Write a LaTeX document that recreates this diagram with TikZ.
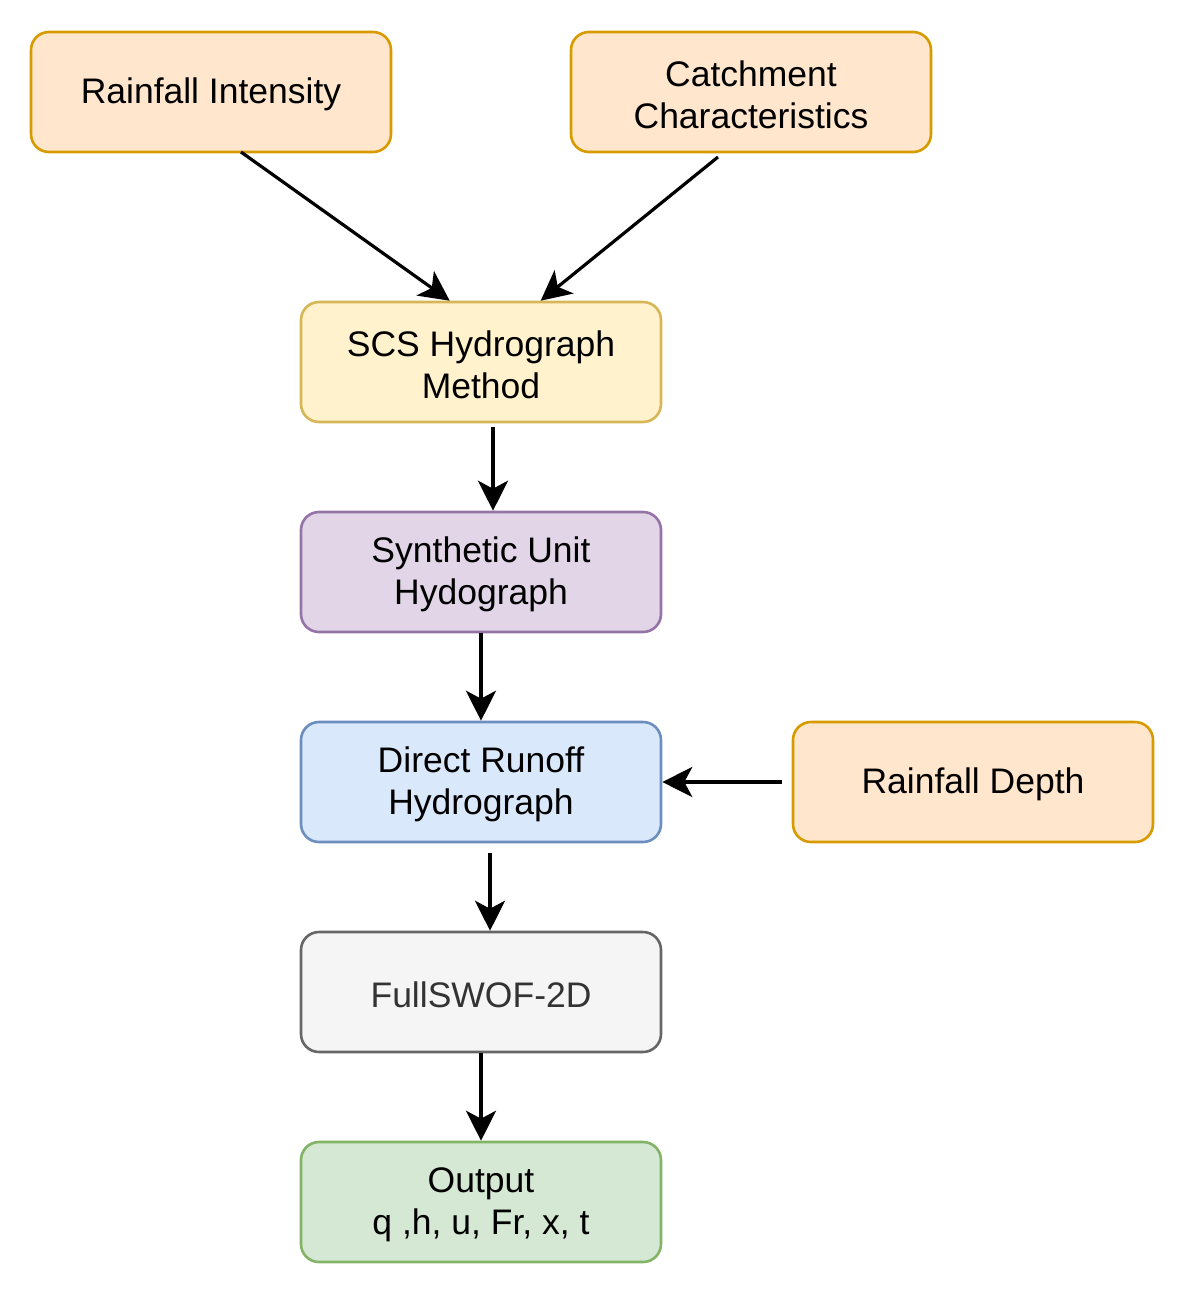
\documentclass[tikz,border=0pt]{standalone}
\usepackage{fontspec}
\setmainfont{Liberation Sans}
\usetikzlibrary{arrows.meta,calc}
\definecolor{orF}{HTML}{FFE6CC}\definecolor{orD}{HTML}{D79B00}
\definecolor{yeF}{HTML}{FFF2CC}\definecolor{yeD}{HTML}{D6B656}
\definecolor{puF}{HTML}{E1D5E7}\definecolor{puD}{HTML}{9673A6}
\definecolor{blF}{HTML}{DAE8FC}\definecolor{blD}{HTML}{6C8EBF}
\definecolor{grF}{HTML}{F5F5F5}\definecolor{grD}{HTML}{666666}\definecolor{grT}{HTML}{333333}
\definecolor{gnF}{HTML}{D5E8D4}\definecolor{gnD}{HTML}{82B366}
\newcommand{\tstrut}{\rule{0pt}{31pt}}
\tikzset{
  box/.style={draw, line width=2.6pt, rounded corners=18pt, minimum width=360pt, minimum height=120pt,
    inner sep=0pt, align=center, font=\fontsize{35.5}{42}\selectfont},
  orbox/.style={box, fill=orF, draw=orD},
  yebox/.style={box, fill=yeF, draw=yeD},
  pubox/.style={box, fill=puF, draw=puD},
  blbox/.style={box, fill=blF, draw=blD},
  grbox/.style={box, fill=grF, draw=grD, text=grT},
  gnbox/.style={box, fill=gnF, draw=gnD},
  conn/.style={line width=3.2pt, -{Stealth[length=30pt,width=30pt,inset=8pt]}}
}
\begin{document}
\begin{tikzpicture}[x=1pt,y=-1pt]
\useasboundingbox (0,0) rectangle (1185,1293);
\node[orbox] (ri) at (211,92) {\tstrut Rainfall Intensity};
\node[orbox] (cc) at (751,92) {\tstrut Catchment\\Characteristics};
\node[yebox] (scs) at (481,362) {\tstrut SCS Hydrograph\\Method};
\node[pubox] (suh) at (481,572) {\tstrut Synthetic Unit\\Hydograph};
\node[blbox] (drh) at (481,782) {\tstrut Direct Runoff\\Hydrograph};
\node[orbox] (rd) at (973,782) {\tstrut Rainfall Depth};
\node[grbox] (fs) at (481,992) {\tstrut FullSWOF-2D};
\node[gnbox] (out) at (481,1202) {\tstrut Output\\q ,h, u, Fr, x, t};
\coordinate (s1) at (241,152);
\coordinate (s2) at (718,157);
\coordinate (s3) at (493,427);
\coordinate (s4) at (782,782);
\coordinate (s5) at (490,853);
\draw[conn] (s1) -- ($(scs.north west)+(150,0)$);
\draw[conn] (s2) -- ($(scs.north west)+(241,0)$);
\draw[conn] (s3) -- ($(suh.north)+(12,0)$);
\draw[conn] (suh.south) -- (drh.north);
\draw[conn] (s4) -- (drh.east);
\draw[conn] (s5) -- ($(fs.north)+(9,0)$);
\draw[conn] (fs.south) -- (out.north);
\end{tikzpicture}
\end{document}
